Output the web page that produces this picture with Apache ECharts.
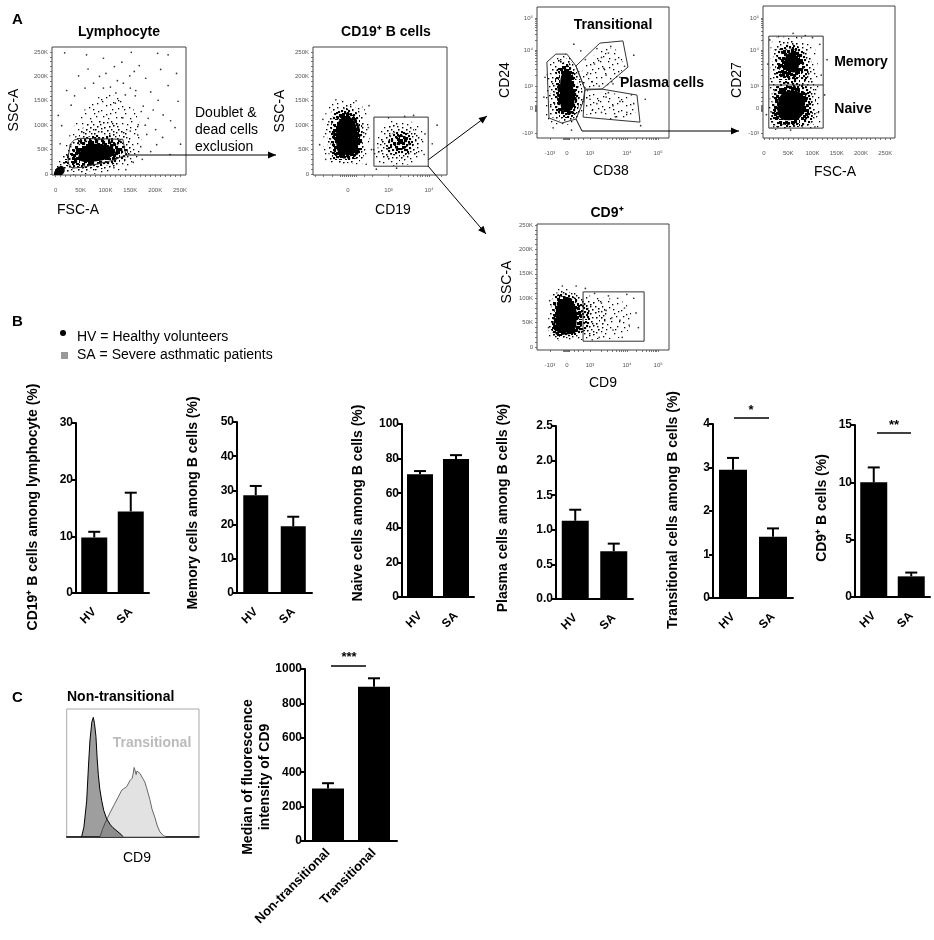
<!DOCTYPE html>
<html>
<head>
<meta charset="utf-8">
<script src="https://cdn.jsdelivr.net/npm/echarts@6/dist/echarts.min.js"></script>
<style>html,body{margin:0;padding:0;background:#fff}#main{width:934px;height:940px}</style>
</head>
<body>
<div id="main"></div>
<script>
var FONT = '"Liberation Sans", Arial, sans-serif';

// ---------- panel B : HV vs SA ----------
var groups = ['HV', 'SA'];
var cd19Mean = [9.8, 14.4],   cd19Err = [1.0, 3.3];
var memoryMean = [28.6, 19.5], memoryErr = [2.7, 2.8];
var naiveMean = [70.9, 79.8],  naiveErr = [1.9, 2.2];
var plasmaMean = [1.13, 0.69], plasmaErr = [0.16, 0.11];
var transMean = [2.95, 1.41],  transErr = [0.27, 0.19];
var cd9Mean = [10.0, 1.8],     cd9Err = [1.3, 0.33];

// ---------- panel C ----------
var subsets = ['Non-transitional', 'Transitional'];
var mfiMean = [305, 897], mfiErr = [31, 49];
// CD9 histograms (x: display channel 0-100, y: % of max)
var histNonTrans = [[11.3,0],[13,8],[15.1,30],[16.5,60],[17.6,81],[19,96],[20.1,100],[21,95],[22.1,84],[23,66],[23.9,52],[25,40],[26.5,30],[28,22],[30.2,15],[33,10],[35,7.5],[38.8,4],[41,2],[42.6,0]];
var histTrans = [[25.2,0],[27,6],[29,11.5],[32.7,20],[36,27],[38.8,33],[41.6,39],[45.4,42],[47.8,47],[49.5,49],[50.1,52],[51,58],[51.6,57],[52.5,52],[53.1,55],[54.5,56],[55.4,53],[56.5,54],[57.4,49],[59,46],[60.4,41],[62.9,31],[64.5,23],[66.7,16],[68.5,9],[70.5,4],[73,1],[75.1,0]];

// ---------- panel A : dot plots, density outlines in data units (outer -> inner) ----------
// Lymphocyte: FSC-A (K) vs SSC-A (K)
var lymphLight = [[0,5],[10,35],[28,80],[50,120],[75,150],[105,162],[140,150],[165,115],[172,70],[165,35],[140,12],[90,2],[30,-1]];
var lymphMid = [[6,10],[18,38],[38,75],[62,100],[95,110],[128,98],[150,68],[150,38],[128,20],[85,8],[35,4]];
var lymphDense = [[18,20],[30,48],[55,72],[95,80],[132,66],[145,45],[130,26],[92,16],[50,12]];
var lymphHeavy = [[30,28],[42,56],[72,70],[112,66],[134,50],[122,30],[85,20],[48,18]];
var lymphCore = [[45,34],[56,54],[80,62],[110,56],[120,44],[100,30],[72,25],[52,26]];
var lymphDebris = [[-3,-2],[10,-3],[18,6],[14,16],[4,14],[-2,6]];
var lymphDots = [[18,248],[62,244],[96,237],[133,229],[168,222],[152,249],[205,247],[226,244],[243,206],[211,214],[181,196],[149,201],[124,191],[101,206],[76,186],[46,201],[22,171],[161,171],[191,168],[226,181],[246,149],[206,151],[176,139],[150,176],[121,166],[59,176],[31,141],[216,121],[186,114],[166,101],[183,81],[201,91],[231,109],[171,56],[191,46],[156,24],[117,13],[141,9],[251,61],[12,99],[9,62],[96,176],[110,178],[136,186],[172,128],[196,131],[160,160],[140,162],[120,145],[180,100],[215,75],[240,95],[203,60],[230,40],[174,30],[5,120],[38,160],[88,200],[65,215],[118,220],[158,210],[135,115],[150,88],[165,80]];
var lymphGate = [[29,61],[38,70],[49,73],[135,71],[141,39],[115,28],[89,22],[55,14],[33,12],[25,22],[25,35],[29,61]];

// CD19 (display units: 0, 10^3 = 1, 10^4 = 2) vs SSC-A (K)
var cd19NegLight = [[-0.55,28],[-0.6,90],[-0.5,135],[-0.2,150],[0.25,145],[0.5,115],[0.52,60],[0.4,25],[0.05,18],[-0.35,20]];
var cd19NegMid = [[-0.45,30],[-0.5,90],[-0.4,130],[-0.1,140],[0.25,132],[0.42,95],[0.42,50],[0.3,26],[-0.05,22],[-0.3,24]];
var cd19NegDense = [[-0.38,32],[-0.42,95],[-0.3,128],[0,133],[0.28,118],[0.36,75],[0.3,38],[0,28],[-0.25,28]];
var cd19NegHeavy = [[-0.32,38],[-0.35,95],[-0.22,120],[0.05,124],[0.25,105],[0.3,60],[0.22,38],[-0.05,32]];
var cd19NegCore = [[-0.25,45],[-0.28,95],[-0.15,115],[0.08,115],[0.22,92],[0.24,55],[0.12,40],[-0.1,40]];
var cd19PosLight = [[0.62,30],[0.66,70],[0.85,100],[1.3,110],[1.75,98],[1.9,60],[1.75,28],[1.3,18],[0.85,20]];
var cd19PosMid = [[0.75,38],[0.8,75],[1.0,97],[1.35,100],[1.7,85],[1.75,50],[1.5,30],[1.0,28]];
var cd19PosDense = [[1.0,45],[1.05,78],[1.3,88],[1.55,78],[1.6,52],[1.35,38]];
var cd19PosHeavy = [[1.15,55],[1.2,75],[1.4,78],[1.5,62],[1.35,50]];
var cd19Dots = [[-0.7,60],[-0.62,112],[0.52,140],[0.58,50],[1.9,82],[2.08,62],[1.62,120],[0.5,95],[-0.55,30],[0.45,20],[1.0,115],[1.4,118],[2.2,100],[0.2,150],[-0.3,152],[1.88,40],[0.7,10],[1.2,12]];
var cd19Gate = [[0.64,16],[1.98,16],[1.98,116.5],[0.64,116.5],[0.64,16]];

// CD38 vs CD24 (display units: 0, 10^3 = 1, 10^4 = 2.61, 10^5 = 3.96)
var cd38Light = [[-0.85,-0.6],[-0.9,1.0],[-0.75,2.05],[-0.3,2.45],[0.2,2.35],[0.55,1.75],[0.9,0.8],[0.8,-0.15],[0.45,-0.65],[-0.2,-0.75]];
var cd38Mid = [[-0.65,-0.4],[-0.7,1.0],[-0.55,1.95],[-0.15,2.3],[0.25,2.0],[0.6,1.15],[0.68,0.3],[0.45,-0.45],[0,-0.58]];
var cd38Dense = [[-0.48,-0.3],[-0.52,1.0],[-0.4,1.85],[0,2.1],[0.28,1.7],[0.48,0.95],[0.52,0.2],[0.3,-0.35],[-0.1,-0.45]];
var cd38Heavy = [[-0.35,-0.2],[-0.4,1.0],[-0.28,1.75],[0.02,1.95],[0.25,1.5],[0.38,0.8],[0.4,0.15],[0.2,-0.25],[-0.1,-0.3]];
var cd38Core = [[-0.25,0],[-0.3,0.9],[-0.2,1.6],[0.05,1.75],[0.2,1.3],[0.3,0.6],[0.3,0.1],[0.1,-0.15],[-0.1,-0.15]];
var cd38TransCloud = [[0.6,1.0],[0.7,1.8],[1.3,2.5],[2.0,2.7],[2.4,2.2],[2.2,1.3],[1.5,0.95]];
var cd38PlasmaCloud = [[0.8,0.6],[1.5,0.7],[2.6,0.5],[3.0,-0.1],[2.5,-0.5],[1.2,-0.35],[0.75,-0.2]];
var cd38Dots = [[0.9,1.6],[1.2,2.0],[1.5,2.3],[1.8,2.5],[2.1,2.2],[1.7,1.5],[2.3,1.4],[1.1,1.2],[1.4,1.0],[0.8,2.2],[2.5,1.9],[1.9,2.8],[1.3,2.7],[0.6,2.6],[2.0,1.1],[1.6,1.8],[1.0,0.4],[1.3,0.2],[1.7,0.5],[2.0,0.1],[2.3,0.3],[2.6,-0.2],[2.9,0.2],[1.5,-0.2],[2.1,-0.4],[1.1,-0.1],[2.8,0.6],[3.4,0.4],[1.8,0.7],[-1.0,0.5],[-0.95,1.4],[0.3,2.9],[3.6,1.2],[2.9,2.4],[0.2,-1.0],[-0.6,-0.9],[3.2,-0.8]];
var cd38GateMain = [[-0.87,2.09],[-0.48,2.45],[0,2.45],[0.39,1.91],[0.78,0.86],[0.70,0.27],[0.39,-0.5],[-0.22,-0.68],[-0.78,-0.45],[-0.87,2.09]];
var cd38GateTrans = [[0.39,1.91],[1.43,2.95],[2.43,3.05],[2.65,1.86],[1.52,0.86],[0.78,0.86],[0.39,1.91]];
var cd38GatePlasma = [[0.78,0.82],[1.52,0.86],[3.04,0.59],[3.17,-0.64],[0.70,-0.41],[0.78,0.82]];

// FSC-A (K) vs CD27 (display units)
var cd27Light = [[14,-0.88],[12,0.5],[13,2.0],[18,3.1],[40,3.25],[80,3.2],[105,2.7],[112,1.2],[118,-0.3],[110,-0.88],[60,-0.9]];
var cd27Mid = [[18,-0.8],[16,0.6],[18,2.2],[28,2.95],[60,3.1],[90,2.7],[100,1.5],[108,0],[100,-0.8],[60,-0.85]];
var cd27MemDense = [[28,1.3],[26,2.3],[40,2.85],[70,2.8],[88,2.2],[88,1.3],[60,1.1]];
var cd27MemHeavy = [[35,1.5],[34,2.4],[50,2.7],[72,2.55],[82,2.0],[75,1.45],[55,1.35]];
var cd27MemCore = [[44,1.8],[46,2.4],[62,2.5],[72,2.0],[66,1.65],[54,1.65]];
var cd27NaiveDense = [[20,-0.75],[19,0.4],[28,1.05],[60,1.15],[92,0.9],[100,0],[95,-0.7],[60,-0.85]];
var cd27NaiveHeavy = [[25,-0.6],[24,0.4],[35,0.9],[70,0.95],[90,0.4],[88,-0.5],[60,-0.75]];
var cd27NaiveCore = [[32,-0.4],[30,0.35],[45,0.75],[75,0.7],[84,0.2],[78,-0.35],[55,-0.55]];
var cd27Dots = [[12,3.1],[8,2.0],[115,2.9],[118,1.5],[112,-0.2],[20,-0.85],[100,3.2],[60,3.4],[30,3.25],[125,0.6],[5,-0.3],[130,2.2],[14,-0.5],[105,-0.85],[55,-1.0],[85,3.3]];
var cd27Gate = [[10,-0.91],[122,-0.91],[122,3.27],[10,3.27],[10,-0.91]];
var cd27Split = [[10,1.05],[122,1.05]];

// CD9 (display units) vs SSC-A (K)
var cd9Light = [[-0.75,18],[-0.8,70],[-0.65,112],[-0.2,122],[0.4,115],[1.0,105],[1.8,100],[2.5,90],[2.8,60],[2.4,22],[1.2,16],[0.3,14],[-0.4,14]];
var cd9Mid = [[-0.65,22],[-0.7,75],[-0.55,108],[0,114],[0.6,104],[1.3,90],[1.7,70],[1.5,32],[0.8,22],[0,18]];
var cd9Dense = [[-0.58,26],[-0.62,75],[-0.5,104],[0,108],[0.5,96],[0.95,78],[0.95,42],[0.55,28],[0,22]];
var cd9Heavy = [[-0.5,28],[-0.55,75],[-0.42,100],[0,103],[0.42,90],[0.65,65],[0.55,35],[0,26]];
var cd9Core = [[-0.42,32],[-0.45,75],[-0.32,95],[0.05,97],[0.35,84],[0.42,55],[0.32,35],[0,30]];
var cd9Dots = [[1.8,105],[2.2,100],[2.5,80],[2.7,45],[2.0,35],[1.7,75],[2.4,20],[1.2,110],[0.8,120],[-0.2,125],[3.0,70],[2.9,100],[1.4,20],[2.6,108],[1.95,60],[2.3,55],[1.5,90],[1.1,15],[-0.8,40],[-0.75,95],[0.4,125],[3.1,40]];
var cd9Gate = [[0.7,12],[3.35,12],[3.35,113],[0.7,113],[0.7,12]];

// axis tick labels
var linTicks = [0, 50, 100, 150, 200, 250];
var linLabels = ['0', '50K', '100K', '150K', '200K', '250K'];
var cd19Ticks = [0, 1, 2], cd19Labels = ['0', '10\u00b3', '10\u2074'];
var logTicksX = [-0.74, 0, 1, 2.61, 3.96];
var logTicksY = [-1.14, 0, 1, 2.64, 4.09];
var logLabels = ['-10\u00b3', '0', '10\u00b3', '10\u2074', '10\u2075'];

// ---------- helpers ----------
// speckle texture for the dot clouds: one 20px cell, reused turned/mirrored in a 40px tile
var SPECK = [[2,3],[11,1],[17,6],[6,9],[14,13],[3,16],[9,18],[18,17],[7,4],[15,9],[1,11],[10,7],[19,1],[5,13],[12,16],[4,0],[16,15],[0,19],
  [9,11],[13,4],[18,11],[8,1],[2,7],[11,13],[6,17],[15,19],[13,9],[3,12],[10,3],[17,2],[5,6],[19,8],[8,15],[1,5],[14,17],[12,11],[7,12],[16,6],[4,19],[0,14]];
function speckle(n, s) {
  var c = document.createElement('canvas');
  c.width = 40; c.height = 40;
  var g = c.getContext('2d');
  g.fillStyle = '#000';
  for (var i = 0; i < n; i++) {
    var x = SPECK[i][0], y = SPECK[i][1];
    g.fillRect(x, y, s, s);
    g.fillRect(20 + y, x, s, s);
    g.fillRect(19 - x, 20 + y, s, s);
    g.fillRect(39 - y, 39 - x, s, s);
  }
  return {image: c, repeat: 'repeat'};
}
var FILL = {light: speckle(14, 1.3), mid: speckle(28, 1.4), dense: speckle(40, 2.1), heavy: speckle(40, 3.1), solid: '#000'};

function minorLin(step, max) { var a = []; for (var v = step; v < max; v += step) if (v % 50) a.push(v); return a; }
function minorLog(starts, spans) {
  var a = [];
  starts.forEach(function (s, j) { for (var k = 2; k < 10; k++) a.push(s + spans[j] * Math.log10(k)); });
  return a;
}
var nearZero = [-0.16, -0.12, -0.08, -0.04, 0.04, 0.08, 0.12, 0.3, 0.5, 0.7];

var grids = [], xAxes = [], yAxes = [], series = [], gfx = [];

function flowAxis(gi, a, isX) {
  return {
    type: 'value', gridIndex: gi, min: a.min, max: a.max,
    axisLine: {show: false, onZero: false}, splitLine: {show: false},
    axisTick: {show: true, length: 2, customValues: a.ticks.concat(a.minor || []), lineStyle: {color: '#555', width: 0.8}},
    axisLabel: {
      customValues: a.ticks, fontSize: 6, color: '#555', fontFamily: FONT, margin: isX ? 12 : 4,
      formatter: function (v) {
        for (var i = 0; i < a.ticks.length; i++) if (Math.abs(a.ticks[i] - v) < 1e-6) return a.labels[i];
        return '';
      }
    }
  };
}

function flowPlot(box, xa, ya, layers, dots, gates) {
  var gi = grids.length;
  grids.push({left: box[0], top: box[1], width: box[2], height: box[3], show: true, borderColor: '#444', borderWidth: 1});
  xAxes.push(flowAxis(gi, xa, true));
  yAxes.push(flowAxis(gi, ya, false));
  series.push({
    type: 'custom', xAxisIndex: gi, yAxisIndex: gi, silent: true, clip: true, z: 1,
    data: layers.map(function (l, i) { return [i]; }),
    renderItem: function (params, api) {
      var L = layers[params.dataIndex];
      return {
        type: 'polygon',
        shape: {points: L[0].map(function (p) { return api.coord(p); }), smooth: 0.4},
        style: {fill: FILL[L[1]]}
      };
    }
  });
  series.push({type: 'scatter', xAxisIndex: gi, yAxisIndex: gi, data: dots, symbolSize: 1.7, itemStyle: {color: '#000'}, silent: true, z: 2});
  gates.forEach(function (g) {
    series.push({type: 'line', xAxisIndex: gi, yAxisIndex: gi, data: g, symbol: 'none', silent: true, z: 3,
      lineStyle: {color: '#333', width: 1}});
  });
}

function errRender(params, api) {
  var x = api.value(0), m = api.value(1), e = api.value(2);
  var b = api.coord([x, m]), t = api.coord([x, m + e]);
  return {type: 'group', children: [
    {type: 'line', shape: {x1: b[0], y1: b[1], x2: t[0], y2: t[1]}, style: {stroke: '#000', lineWidth: 2}},
    {type: 'line', shape: {x1: t[0] - 6, y1: t[1], x2: t[0] + 6, y2: t[1]}, style: {stroke: '#000', lineWidth: 2}}
  ]};
}

function barChart(box, cats, mean, err, max, step, bw, fmt, catSize, xMargin) {
  var gi = grids.length;
  grids.push({left: box[0], top: box[1], width: box[2], height: box[3]});
  xAxes.push({type: 'category', gridIndex: gi, data: cats,
    axisLine: {lineStyle: {color: '#000', width: 2}}, axisTick: {show: false},
    axisLabel: {interval: 0, rotate: 45, fontSize: catSize || 12, fontWeight: 'bold', color: '#000', fontFamily: FONT, margin: xMargin || 17}});
  yAxes.push({type: 'value', gridIndex: gi, min: 0, max: max, interval: step, splitLine: {show: false},
    axisLine: {show: true, lineStyle: {color: '#000', width: 2}},
    axisTick: {show: true, length: 4, lineStyle: {color: '#000', width: 2}},
    axisLabel: {fontSize: 12, fontWeight: 'bold', color: '#000', fontFamily: FONT, margin: 3,
      formatter: fmt || function (v) { return String(v); }}});
  series.push({type: 'bar', xAxisIndex: gi, yAxisIndex: gi, data: mean, barWidth: bw, itemStyle: {color: '#000'}, silent: true});
  series.push({type: 'custom', xAxisIndex: gi, yAxisIndex: gi, silent: true, z: 3,
    data: mean.map(function (m, i) { return [i, m, err[i]]; }), renderItem: errRender});
}

function txt(x, y, s, size, opt) {
  opt = opt || {};
  gfx.push({type: 'text', x: x, y: y, rotation: opt.rot ? Math.PI / 2 : 0, silent: true,
    style: {text: s, fill: opt.color || '#000', fontSize: size, fontWeight: opt.bold ? 'bold' : 'normal', fontFamily: FONT,
      align: opt.align || 'center', verticalAlign: 'middle'}});
}
function arrow(pts) {
  gfx.push({type: 'polyline', shape: {points: pts}, style: {stroke: '#000', lineWidth: 1, fill: null}, silent: true});
  var a = pts[pts.length - 2], b = pts[pts.length - 1];
  var dx = b[0] - a[0], dy = b[1] - a[1], L = Math.sqrt(dx * dx + dy * dy), ux = dx / L, uy = dy / L;
  gfx.push({type: 'polygon', silent: true, style: {fill: '#000'}, shape: {points: [
    b, [b[0] - ux * 8 - uy * 3.5, b[1] - uy * 8 + ux * 3.5], [b[0] - ux * 8 + uy * 3.5, b[1] - uy * 8 - ux * 3.5]]}});
}
function hline(x1, x2, y) {
  gfx.push({type: 'line', silent: true, shape: {x1: x1, y1: y, x2: x2, y2: y}, style: {stroke: '#000', lineWidth: 1.5}});
}

// ---------- panel A ----------
var linAxis = function (min, max) { return {min: min, max: max, ticks: linTicks, labels: linLabels, minor: minorLin(10, 260)}; };
var logMinorX = nearZero.concat(minorLog([1, 2.61], [1.61, 1.35]));
var logMinorY = nearZero.concat(minorLog([1, 2.64], [1.64, 1.45]));

flowPlot([52, 47, 134, 128], linAxis(-7.5, 262), linAxis(-2, 260),
  [[lymphLight, 'light'], [lymphMid, 'mid'], [lymphDense, 'dense'], [lymphHeavy, 'heavy'], [lymphCore, 'solid'], [lymphDebris, 'solid']],
  lymphDots, [lymphGate]);
flowPlot([313, 47, 134, 128],
  {min: -0.864, max: 2.444, ticks: cd19Ticks, labels: cd19Labels, minor: [-0.8, -0.6, -0.4, -0.2, -0.15, -0.1, -0.05, 0.05, 0.1, 0.15, 0.2, 0.4, 0.6].concat(minorLog([1, 2], [1, 1]))},
  linAxis(-2, 260),
  [[cd19NegLight, 'light'], [cd19NegMid, 'mid'], [cd19NegDense, 'dense'], [cd19NegHeavy, 'heavy'], [cd19NegCore, 'solid'],
   [cd19PosLight, 'light'], [cd19PosMid, 'mid'], [cd19PosDense, 'dense'], [cd19PosHeavy, 'heavy']],
  cd19Dots, [cd19Gate]);
flowPlot([537, 7, 132, 131],
  {min: -1.30, max: 4.43, ticks: logTicksX, labels: logLabels, minor: logMinorX},
  {min: -1.36, max: 4.59, ticks: logTicksY, labels: logLabels, minor: logMinorY},
  [[cd38TransCloud, 'light'], [cd38PlasmaCloud, 'light'], [cd38Light, 'light'], [cd38Mid, 'mid'], [cd38Dense, 'dense'], [cd38Heavy, 'heavy'], [cd38Core, 'solid']],
  cd38Dots, [cd38GateMain, cd38GateTrans, cd38GatePlasma]);
flowPlot([763, 6, 132, 132],
  {min: -2, max: 270, ticks: linTicks, labels: linLabels, minor: minorLin(10, 270)},
  {min: -1.36, max: 4.64, ticks: logTicksY, labels: logLabels, minor: logMinorY},
  [[cd27Light, 'light'], [cd27Mid, 'mid'], [cd27MemDense, 'dense'], [cd27NaiveDense, 'dense'], [cd27MemHeavy, 'heavy'], [cd27NaiveHeavy, 'heavy'],
   [cd27MemCore, 'solid'], [cd27NaiveCore, 'solid']],
  cd27Dots, [cd27Gate, cd27Split]);
flowPlot([537, 224, 132, 126],
  {min: -1.30, max: 4.43, ticks: logTicksX, labels: logLabels, minor: logMinorX},
  linAxis(-6, 252),
  [[cd9Light, 'light'], [cd9Mid, 'mid'], [cd9Dense, 'dense'], [cd9Heavy, 'heavy'], [cd9Core, 'solid']],
  cd9Dots, [cd9Gate]);

// ---------- panel C histogram ----------
(function () {
  var gi = grids.length;
  grids.push({left: 66.7, top: 709, width: 132.3, height: 127.7, show: true, borderColor: '#aaa', borderWidth: 1});
  xAxes.push({type: 'value', gridIndex: gi, min: 0, max: 100, axisLine: {show: true, onZero: false, lineStyle: {color: '#000', width: 1.5}},
    axisTick: {show: false}, axisLabel: {show: false}, splitLine: {show: false}});
  yAxes.push({type: 'value', gridIndex: gi, min: 0, max: 107, show: false, splitLine: {show: false}});
  series.push({type: 'line', xAxisIndex: gi, yAxisIndex: gi, data: histTrans, symbol: 'none', silent: true, z: 2,
    lineStyle: {color: '#666', width: 1}, areaStyle: {color: '#e2e2e2', opacity: 1}});
  series.push({type: 'line', xAxisIndex: gi, yAxisIndex: gi, data: histNonTrans, symbol: 'none', silent: true, z: 3,
    lineStyle: {color: '#000', width: 1}, areaStyle: {color: 'rgba(40,40,40,0.45)', opacity: 1}});
})();

// ---------- panel B bars ----------
var fmt1 = function (v) { return v.toFixed(1); };
barChart([76, 423, 73, 170], groups, cd19Mean, cd19Err, 30, 10, 26);
barChart([237, 422, 75, 171], groups, memoryMean, memoryErr, 50, 10, 25);
barChart([402, 424, 72, 173], groups, naiveMean, naiveErr, 100, 20, 26);
barChart([556, 426, 77, 173], groups, plasmaMean, plasmaErr, 2.5, 0.5, 27, fmt1);
barChart([713, 424, 80, 174], groups, transMean, transErr, 4, 1, 28);
barChart([855, 425, 75, 172], groups, cd9Mean, cd9Err, 15, 5, 27);
// ---------- panel C bars ----------
barChart([305, 669, 92, 172], subsets, mfiMean, mfiErr, 1000, 200, 32, null, 13, 10);

// ---------- annotations ----------
txt(12, 20, 'A', 15, {bold: true, align: 'left'});
txt(12, 322, 'B', 15, {bold: true, align: 'left'});
txt(12, 698, 'C', 15, {bold: true, align: 'left'});

txt(119, 32, 'Lymphocyte', 14, {bold: true});
txt(386, 32, 'CD19\u207a B cells', 14, {bold: true});
txt(613, 25, 'Transitional', 14, {bold: true});
txt(662, 83, 'Plasma cells', 14, {bold: true});
txt(861, 62, 'Memory', 14, {bold: true});
txt(853, 109, 'Naive', 14, {bold: true});
txt(607, 213, 'CD9\u207a', 14, {bold: true});

txt(14, 110, 'SSC-A', 14, {rot: true});
txt(78, 210, 'FSC-A', 14);
txt(280, 111, 'SSC-A', 14, {rot: true});
txt(393, 210, 'CD19', 14);
txt(505, 80, 'CD24', 14, {rot: true});
txt(611, 171, 'CD38', 14);
txt(737, 80, 'CD27', 14, {rot: true});
txt(835, 172, 'FSC-A', 14);
txt(507, 282, 'SSC-A', 14, {rot: true});
txt(603, 383, 'CD9', 14);

txt(195, 113, 'Doublet &', 14, {align: 'left'});
txt(195, 130, 'dead cells', 14, {align: 'left'});
txt(195, 147, 'exclusion', 14, {align: 'left'});

arrow([[126, 155], [276, 155]]);
arrow([[428, 160], [487, 116]]);
arrow([[428, 166], [486, 234]]);
arrow([[576, 119], [582, 131], [739, 131]]);

gfx.push({type: 'circle', silent: true, shape: {cx: 63, cy: 333, r: 3}, style: {fill: '#000'}});
gfx.push({type: 'rect', silent: true, shape: {x: 61, y: 352, width: 7, height: 7}, style: {fill: '#999'}});
txt(77, 337, 'HV = Healthy volunteers', 14, {align: 'left'});
txt(77, 355, 'SA = Severe asthmatic patients', 14, {align: 'left'});

txt(33, 507, 'CD19\u207a B cells among lymphocyte (%)', 14, {bold: true, rot: true});
txt(193, 503, 'Memory cells among B cells (%)', 14, {bold: true, rot: true});
txt(358, 503, 'Naive cells among B cells (%)', 14, {bold: true, rot: true});
txt(503, 508, 'Plasma cells among B cells (%)', 14, {bold: true, rot: true});
txt(673, 510, 'Transitional cells among B cells (%)', 14, {bold: true, rot: true});
txt(822, 508, 'CD9\u207a B cells (%)', 14, {bold: true, rot: true});

hline(734, 769, 418); txt(751, 410, '*', 13, {bold: true});
hline(877, 911, 433); txt(894, 425, '**', 13, {bold: true});
hline(331, 366, 666); txt(349, 657, '***', 13, {bold: true});

txt(67, 697, 'Non-transitional', 14, {bold: true, align: 'left'});
txt(152, 743, 'Transitional', 14, {bold: true, color: '#bbb'});
txt(137, 858, 'CD9', 14);
txt(248, 777, 'Median of fluorescence', 14, {bold: true, rot: true});
txt(265, 777, 'intensity of CD9', 14, {bold: true, rot: true});

var myChart = echarts.init(document.getElementById('main'));
myChart.setOption({
  animation: false,
  backgroundColor: '#fff',
  textStyle: {fontFamily: FONT},
  grid: grids,
  xAxis: xAxes,
  yAxis: yAxes,
  series: series,
  graphic: gfx
});
</script>
</body>
</html>
